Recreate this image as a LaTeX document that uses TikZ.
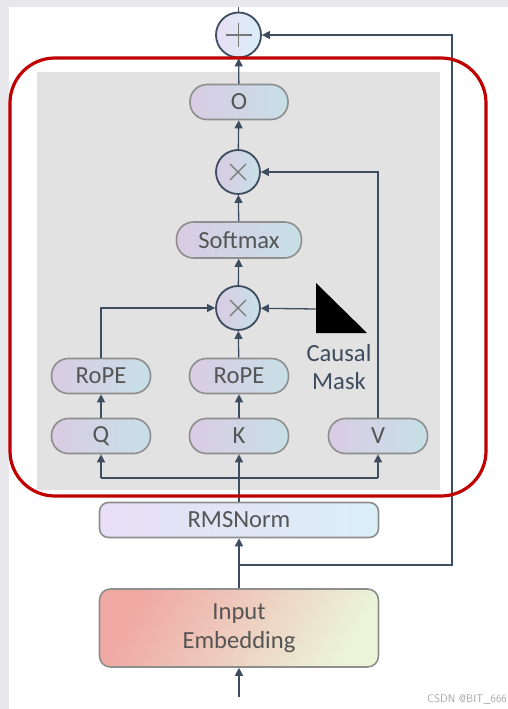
\documentclass[tikz,border=0pt]{standalone}
\usepackage{fontspec}
\setmainfont{Carlito}
\usetikzlibrary{positioning}
\usetikzlibrary{arrows.meta}
\definecolor{pagegray}{HTML}{E8E8EC}
\definecolor{panelgray}{HTML}{E2E2E2}
\definecolor{frame}{HTML}{C00000}
\definecolor{wire}{HTML}{3E4C60}
\definecolor{edge}{HTML}{8E8E8E}
\definecolor{ink}{HTML}{555555}
\definecolor{lav}{HTML}{D9CCE4}
\definecolor{ice}{HTML}{C7DFE7}
\definecolor{normlav}{HTML}{E8DEF5}
\definecolor{normice}{HTML}{DAEEF8}
\definecolor{embred}{HTML}{F0A8A3}
\definecolor{embpeach}{HTML}{F6D6C0}
\definecolor{embgreen}{HTML}{EBF3D9}

\begin{document}
\begin{tikzpicture}[x=1pt,y=-1pt,
  pill/.style={draw=edge,line width=1.6pt,rounded corners=17pt,left color=lav,right color=ice,
    minimum height=35pt,minimum width=99pt,inner sep=0pt,text=ink,font=\fontsize{24.6}{28}\selectfont},
  opnode/.style={circle,draw=wire,line width=1.8pt,left color=lav,right color=ice,minimum size=44pt,inner sep=0pt},
  sym/.style={draw=ink!80,line width=1.1pt},
  wireline/.style={draw=wire,line width=1.3pt},
  arrow/.style={wireline,-{Triangle[width=8pt,length=8pt]}}]
 \useasboundingbox (0,0) rectangle (508,709);
 \fill[pagegray] (0,0) rectangle (508,709);
 \fill[white] (9,7) rectangle (508,709);
 \fill[panelgray] (37,72) rectangle (440,490);
 % nodes
 \node[opnode,minimum size=45pt,left color=normlav,right color=normice] (plus) at (238.5,35) {};
 \node[pill,minimum width=98pt] (o) at (239,102) {O};
 \node[opnode] (mulv) at (238,172) {};
 \node[pill,minimum width=125pt,minimum height=36pt] (softmax) at (239,240) {Softmax};
 \node[opnode] (mulqk) at (238,308) {};
 \node[pill] (ropeq) at (101,376) {RoPE};
 \node[pill] (ropek) at (239,376) {RoPE};
 \node[pill] (q) at (101,436) {Q};
 \node[pill] (k) at (239,436) {K};
 \node[pill] (v) at (378,436) {V};
 \node[pill,rounded corners=9pt,minimum width=279pt,left color=normlav,right color=normice] (norm) at (239,520) {RMSNorm};
 \node[draw=edge,line width=1.6pt,rounded corners=11pt,minimum width=279pt,minimum height=78pt,
   left color=embred,middle color=embpeach,right color=embgreen,shading angle=60,
   text=ink,align=center,font=\fontsize{24.6}{29}\selectfont] (embed) at (239,628) {Input\\Embedding};
 \node[text=wire,align=center,font=\fontsize{24.6}{28}\selectfont] (masktext) at (339,367) {Causal\\Mask};
 \node[text=gray!70,font=\fontsize{11}{13}\selectfont\sffamily] (mark) at (467,699) {CSDN @BIT\_666};
 \fill[black] (316,283) -- (316,333) -- (367,333) -- cycle;
 \coordinate (maskin) at (316,309);
 \coordinate (top) at (238.5,7);
 \coordinate (split) at (239,478);
 \coordinate (res) at (239,565);
 \coordinate (skip) at (452,565);
 \coordinate (in) at (239,697);
 % symbols
 \draw[sym] (plus.center) +(-13,0) -- +(13,0);
 \draw[sym] (plus.center) +(0,-12) -- +(0,12);
 \foreach \n in {mulv,mulqk} {
  \draw[sym] (\n.center) +(-8,-8) -- +(8,8);
  \draw[sym] (\n.center) +(-8,8) -- +(8,-8);
 }
 % connectors
 \draw[wireline] (top) -- (plus);
 \draw[arrow] (o) -- (plus);
 \draw[arrow] (mulv) -- (o);
 \draw[arrow] (softmax) -- (mulv);
 \draw[arrow] (mulqk) -- (softmax);
 \draw[arrow] (ropeq.north) |- (mulqk);
 \draw[arrow] (maskin) -- (mulqk);
 \draw[arrow] (ropek) -- (mulqk);
 \draw[arrow] (v.north) |- (mulv);
 \draw[arrow] (q) -- (ropeq);
 \draw[arrow] (k) -- (ropek);
 \draw[wireline] (q.south |- split) -- (v.south |- split);
 \draw[arrow] (q.south |- split) -- (q);
 \draw[arrow] (v.south |- split) -- (v);
 \draw[arrow] (norm) -- (k);
 \draw[arrow] (embed) -- (norm);
 \draw[arrow] (res) -- (skip) |- (plus);
 \draw[arrow] (in) -- (embed);
 % frame
 \draw[frame,line width=3.2pt,rounded corners=45pt] (10,58) rectangle (486,496);
\end{tikzpicture}
\end{document}
